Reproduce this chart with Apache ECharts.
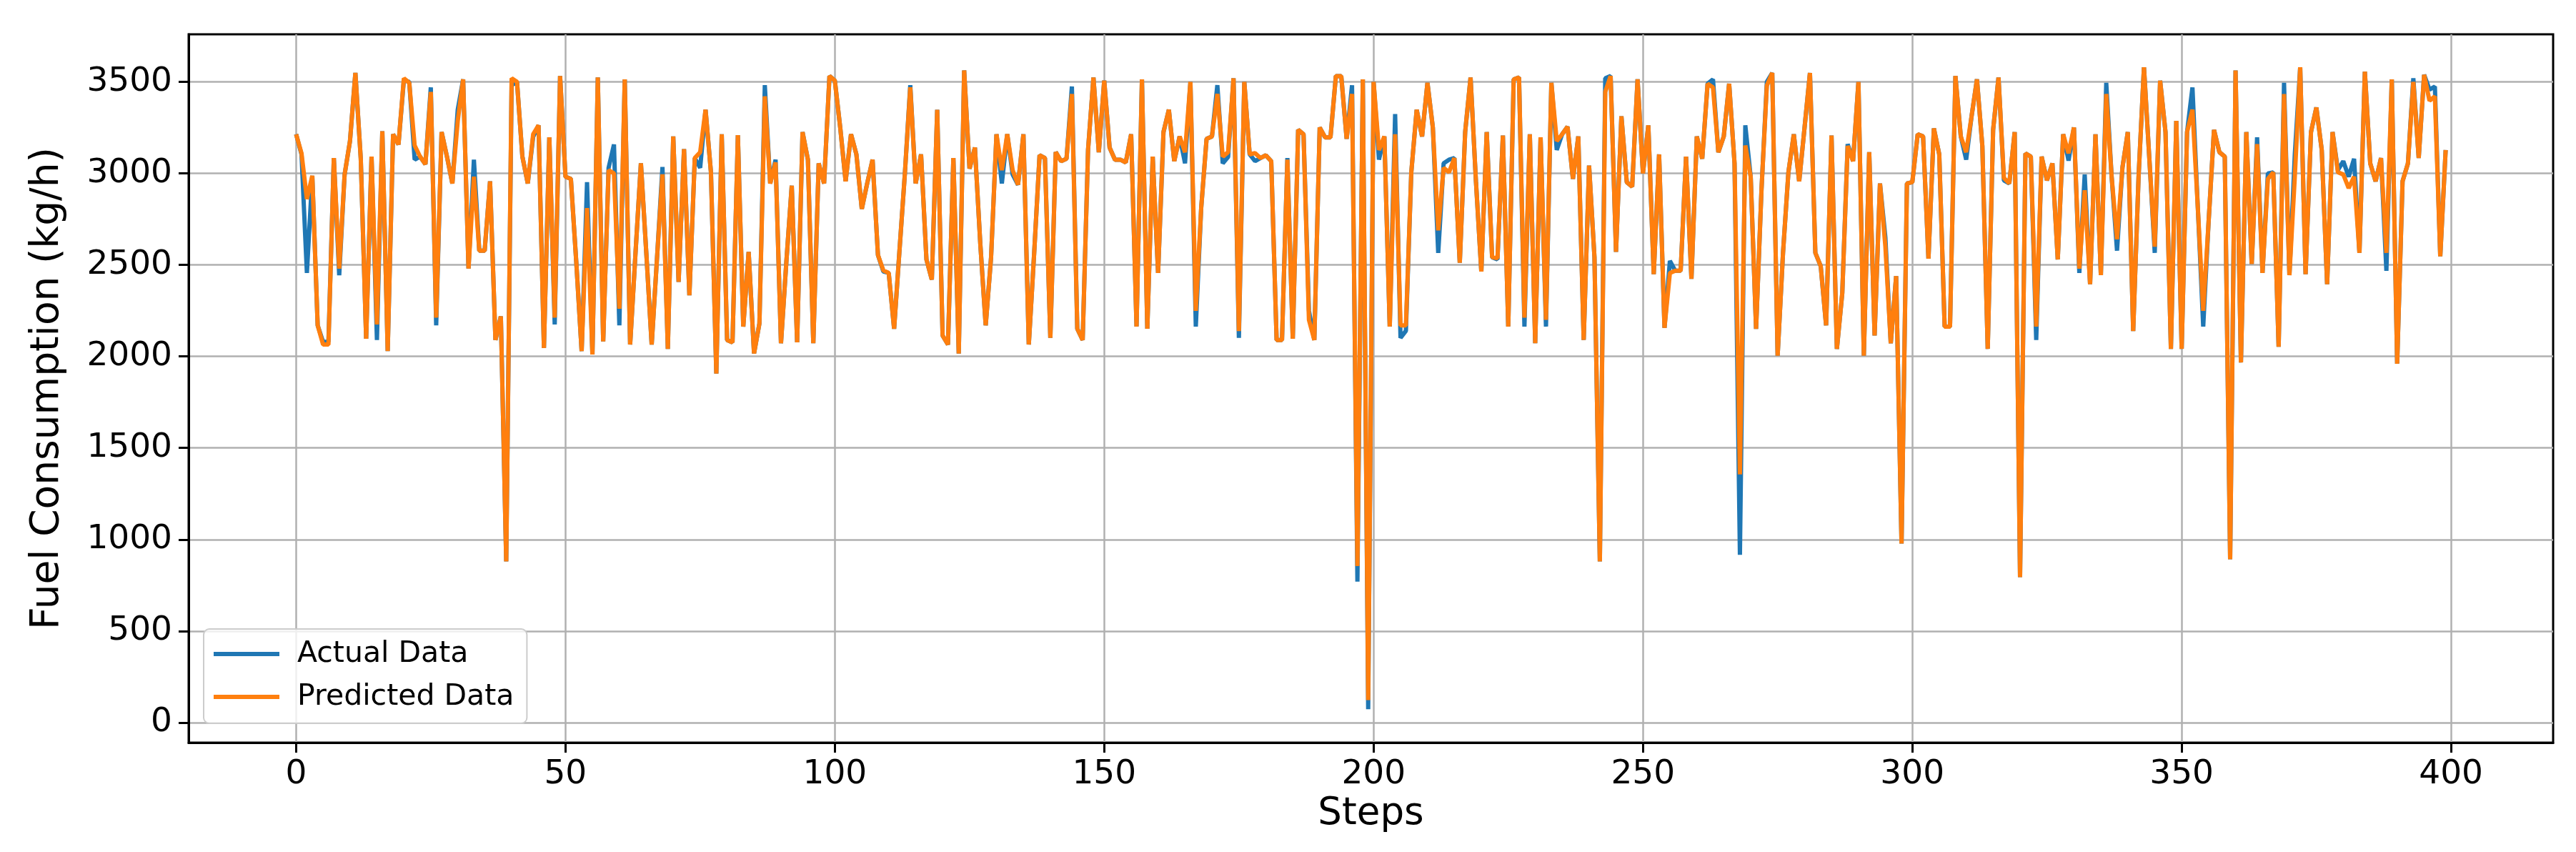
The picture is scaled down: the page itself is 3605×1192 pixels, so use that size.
<!DOCTYPE html>
<html><head><meta charset="utf-8">
<script src="https://cdn.jsdelivr.net/npm/echarts@6/dist/echarts.min.js"></script>
<style>html,body{margin:0;padding:0;background:#fff}#c{width:3605px;height:1192px}</style>
</head><body><div id="c"></div>
<script>
const actual = [
3214,3104,2456,2987,2170,2080,2080,3084,2444,2994,
3177,3549,3080,2097,3092,2090,3231,2029,3214,3158,
3510,3500,3075,3092,3050,3470,2170,3226,3092,2945,
3348,3514,2480,3075,2578,2578,2957,2090,2219,880,
3482,3500,3092,2945,3200,3263,2046,3197,2175,3532,
2982,2970,2517,2029,2952,2011,3524,2082,3030,3158,
2170,3514,2065,2566,3055,2566,2065,2542,3035,2041,
3202,2407,3133,2334,3084,3031,3348,3006,1906,3214,
2090,2077,3209,2163,2571,2016,2180,3482,2945,3075,
2072,2517,2933,2077,3226,3075,2072,3055,2945,3532,
3507,3250,2957,3214,3104,2806,2945,3075,2554,2464,
2456,2151,2580,3000,3482,2945,3104,2530,2420,3348,
2114,2065,3084,2016,3563,3026,3141,2615,2170,2542,
3214,2945,3214,2994,2938,3214,2065,2566,3099,3084,
2102,3116,3067,3080,3475,2151,2090,3128,3524,3116,
3507,3141,3075,3075,3060,3214,2163,3514,2151,3092,
2456,3226,3348,3067,3202,3055,3500,2163,2811,3189,
3202,3482,3055,3090,3520,2102,3500,3104,3067,3084,
3099,3067,2090,2090,3084,2097,3238,3214,2250,2090,
3251,3197,3197,3532,3532,3189,3482,770,3514,73,
3500,3075,3202,2163,3324,2102,2140,3006,3348,3202,
3495,3251,2566,3055,3075,3084,2512,3226,3524,2957,
2464,3226,2542,2530,3207,2163,3514,3524,2163,3214,
2072,3197,2163,3495,3128,3214,3255,2970,3202,2090,
3043,2542,880,3520,3532,2571,3312,2952,2928,3514,
3000,3263,2449,3104,2156,2522,2468,2468,3092,2424,
3202,3080,3490,3514,3116,3202,3490,3055,916,3263,
2982,2151,2908,3500,3549,2004,2566,3006,3214,2957,
3251,3549,2566,2493,2170,3207,2041,2346,3160,3067,
3500,2004,3116,2114,2945,2650,2072,2439,978,2945,
2952,3214,3202,2534,3246,3104,2163,2163,3532,3202,
3075,3312,3514,3150,2041,3238,3524,2962,2945,3226,
794,3109,3092,2090,3092,2962,3055,2530,3214,3070,
3251,2456,2994,2395,3214,2444,3495,2982,2578,3031,
3226,2139,2982,3580,3080,2566,3507,3226,2041,3287,
2041,3226,3470,2811,2163,2737,3238,3116,3092,892,
3563,1967,3226,2505,3197,2456,3000,3006,2053,3495,
2444,3104,3580,2449,3226,3360,3128,2395,3226,3018,
3067,2982,3080,2566,3556,3055,2957,3084,2468,3514,
1960,2957,3055,3520,3084,3539,3458,3475,2547,3128
];
const predicted = [
3214,3110,2860,2987,2170,2065,2065,3084,2480,2994,
3177,3549,3080,2097,3092,2175,3231,2029,3214,3158,
3520,3495,3153,3092,3050,3445,2212,3226,3092,2945,
3287,3514,2480,2982,2578,2578,2957,2090,2219,880,
3520,3500,3092,2945,3214,3263,2046,3197,2212,3532,
2982,2970,2517,2029,2811,2011,3524,2082,3018,3000,
2261,3514,2065,2566,3055,2566,2065,2542,2995,2041,
3202,2407,3133,2334,3084,3116,3348,3006,1906,3214,
2090,2077,3209,2163,2571,2016,2180,3421,2945,3060,
2072,2517,2933,2077,3226,3075,2072,3055,2945,3532,
3507,3250,2957,3214,3104,2806,2945,3075,2554,2470,
2456,2151,2580,3000,3470,2945,3104,2530,2420,3348,
2114,2065,3084,2016,3563,3026,3141,2615,2170,2542,
3214,3018,3214,3018,2938,3214,2065,2566,3099,3084,
2102,3116,3067,3080,3434,2151,2090,3128,3524,3116,
3507,3141,3075,3075,3060,3214,2163,3514,2151,3092,
2456,3226,3348,3067,3202,3116,3500,2249,2811,3189,
3202,3434,3092,3116,3520,2139,3500,3104,3111,3084,
3099,3067,2090,2090,3075,2097,3238,3214,2200,2090,
3251,3197,3197,3532,3532,3189,3434,855,3514,122,
3500,3128,3202,2163,3214,2170,2170,3006,3348,3202,
3495,3251,2689,3031,3006,3084,2512,3226,3524,2957,
2464,3226,2542,2537,3207,2163,3514,3524,2212,3214,
2072,3197,2200,3495,3177,3214,3255,2970,3202,2090,
3043,2542,880,3446,3532,2571,3312,2952,2928,3514,
3000,3263,2449,3104,2156,2456,2468,2468,3092,2424,
3202,3080,3490,3470,3116,3202,3490,3055,1356,3153,
2982,2151,2908,3480,3549,2004,2566,3006,3214,2957,
3251,3549,2566,2493,2170,3207,2041,2346,3150,3067,
3500,2004,3116,2114,2945,2600,2072,2439,978,2945,
2952,3214,3202,2534,3246,3104,2163,2163,3532,3202,
3116,3312,3514,3150,2041,3238,3524,2975,2945,3226,
794,3109,3092,2163,3092,2962,3055,2530,3214,3110,
3251,2480,2908,2395,3214,2444,3434,2982,2640,3031,
3226,2139,2982,3580,3080,2600,3507,3226,2041,3287,
2041,3226,3348,2811,2249,2737,3238,3116,3092,892,
3563,1967,3226,2505,3160,2456,2970,3006,2053,3434,
2444,2982,3580,2449,3226,3360,3128,2395,3226,3006,
2994,2920,2982,2566,3556,3055,2957,3084,2566,3514,
1960,2957,3055,3500,3084,3539,3397,3421,2547,3128
];
const xTicks = [0,50,100,150,200,250,300,350,400];
const yTicks = [0,500,1000,1500,2000,2500,3000,3500];
const seriesNames = ['Actual Data','Predicted Data'];

const FONT = 'DejaVu Sans';
const chart = echarts.init(document.getElementById('c'), null, {renderer:'canvas'});
const toPairs = arr => arr.map((v,i)=>[i,v]);
const plain = v => String(Math.round(v));
chart.setOption({
  animation:false,
  backgroundColor:'#fff',
  grid:{left:264,right:32,top:48,bottom:153,show:true,borderColor:'#000',borderWidth:3,backgroundColor:'transparent'},
  xAxis:{
    type:'value',min:-19.95,max:418.95,
    name:'Steps',nameLocation:'middle',nameGap:74,
    nameTextStyle:{fontFamily:FONT,fontSize:53,color:'#000'},
    axisLine:{show:true,onZero:false,lineStyle:{color:'#000',width:3}},
    axisTick:{show:true,length:14,lineStyle:{color:'#000',width:3},customValues:xTicks},
    axisLabel:{fontFamily:FONT,fontSize:47,color:'#000',margin:21,customValues:xTicks,formatter:plain},
    splitLine:{show:true,lineStyle:{color:'#b0b0b0',width:2.5}}
  },
  yAxis:{
    type:'value',min:-110,max:3760,
    name:'Fuel Consumption (kg/h)',nameLocation:'middle',nameGap:170,
    nameTextStyle:{fontFamily:FONT,fontSize:55,color:'#000'},
    axisLine:{show:true,onZero:false,lineStyle:{color:'#000',width:3}},
    axisTick:{show:true,length:14,lineStyle:{color:'#000',width:3},customValues:yTicks},
    axisLabel:{fontFamily:FONT,fontSize:47,color:'#000',margin:23,customValues:yTicks,formatter:plain},
    splitLine:{show:true,lineStyle:{color:'#b0b0b0',width:2.5}}
  },
  legend:{
    show:true,orient:'vertical',left:285,top:880,
    data:seriesNames,
    icon:'rect',itemWidth:92,itemHeight:6,itemGap:14,
    padding:[12,18,14,14],
    backgroundColor:'rgba(255,255,255,0.8)',
    borderColor:'#cccccc',borderWidth:2,borderRadius:8,
    textStyle:{fontFamily:FONT,fontSize:41,color:'#000',lineHeight:46,padding:[0,0,0,20]}
  },
  series:[
    {name:seriesNames[0],type:'line',data:toPairs(actual),showSymbol:false,symbol:'none',
     color:'#1f77b4',lineStyle:{color:'#1f77b4',width:6},z:2},
    {name:seriesNames[1],type:'line',data:toPairs(predicted),showSymbol:false,symbol:'none',
     color:'#ff7f0e',lineStyle:{color:'#ff7f0e',width:6},z:3}
  ]
});
</script>
</body></html>
